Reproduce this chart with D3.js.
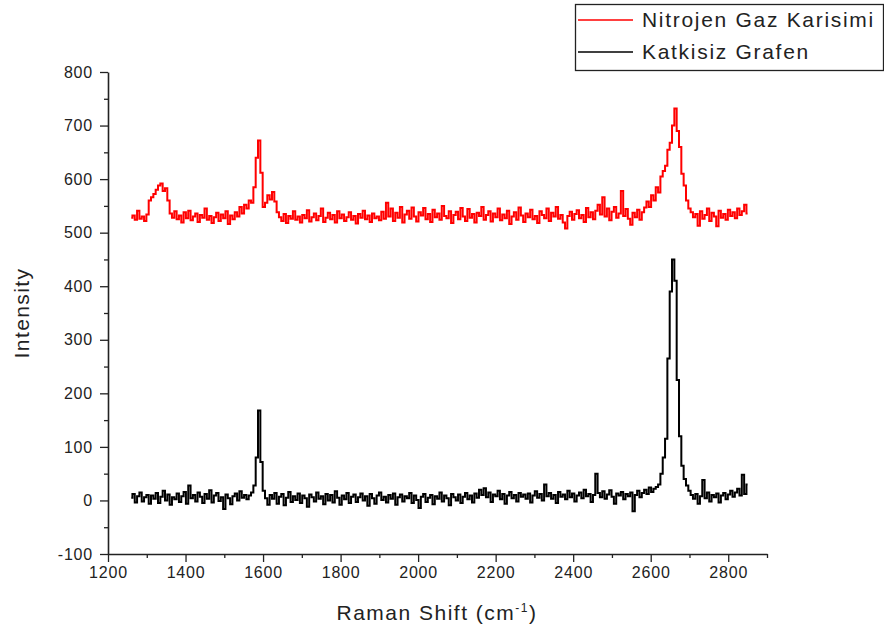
<!DOCTYPE html>
<html>
<head>
<meta charset="utf-8">
<script src="https://cdn.jsdelivr.net/npm/d3@7/dist/d3.min.js"></script>
<style>
  body { margin: 0; background: #fff; }
  text { font-family: "Liberation Sans", Arial, sans-serif; }
</style>
</head>
<body>
<svg id="chart" width="884" height="637"></svg>
<script>
// Raman spectra, sampled every 6 cm-1 starting at 1260 cm-1
const xStart = 1260;
const xStep = 6;

const nitrojenGaz = [
  528, 532, 524, 541, 526, 530, 522, 534, 560, 566,
  572, 580, 588, 592, 578, 583, 560, 536, 528, 540,
  525, 532, 519, 538, 527, 541, 523, 530, 536, 520,
  533, 528, 545, 524, 531, 518, 529, 537, 522, 534,
  527, 540, 516, 532, 525, 538, 530, 548, 536, 552,
  545, 560, 556, 585, 640, 672, 612, 548, 556, 570,
  562, 576, 558, 538, 529, 522, 535, 518, 531, 526,
  540, 524, 530, 519, 533, 527, 542, 521, 529, 536,
  523, 531, 545, 520, 528, 537, 525, 533, 519, 540,
  527, 534, 522, 529, 538, 524, 531, 517, 535, 528,
  541, 525, 532, 520, 536, 527, 530, 523, 539, 526,
  556, 530, 545, 522, 537, 528, 548, 519, 534, 541,
  526, 547, 530, 521, 538, 532, 546, 525, 535, 520,
  543, 529, 536, 524, 550, 531, 527, 540, 518, 533,
  539, 525, 546, 530, 522, 544, 528, 535, 519, 537,
  531, 548, 524, 533, 540, 521, 536, 529, 545, 523,
  534, 527, 541, 516, 530, 538, 524, 547, 532, 520,
  536, 529, 543, 525, 531, 518, 540, 533, 527, 545,
  522, 537, 530, 548, 526, 533, 519, 508, 531, 539,
  524, 535, 542, 527, 533, 520, 546, 529, 538, 525,
  541, 552, 534, 566, 530, 545, 523, 539, 548, 528,
  536, 578, 531, 544, 526, 515, 537, 529, 543, 524,
  538, 547, 558, 548, 570, 560, 585, 575, 605, 615,
  625, 655, 668, 700, 732, 690, 660, 610, 588, 560,
  545, 538, 529, 535, 513, 540, 526, 533, 545, 522,
  537, 530, 512, 541, 528, 535, 524, 543, 531, 538,
  527, 545, 533, 540, 552, 536
];

const katkisizGrafen = [
  5, 12, -4, 8, 15, -2, 6, 10, -6, 9,
  3, 14, -5, 7, 18, 0, 11, -8, 6, 2,
  13, -3, 8, 16, -6, 28, 4, 10, -2, 15,
  7, -5, 12, 3, 19, -4, 9, 14, -1, 6,
  -16, 11, 4, -7, 8, 13, 0, 17, 5, 10,
  2, 9, 15, 28, 80, 168, 72, 18, 4, -8,
  10, 3, 14, -6, 7, 12, -9, 5, 16, -3,
  8, 1, 13, -5, 9, 4, -12, 11, 6, -2,
  15, 3, 8, -7, 12, 0, 10, -4, 17, 5,
  -8, 9, 2, 14, -5, 7, 11, -3, 6, 13,
  0, 8, -10, 12, 4, -6, 9, 15, 1, 7,
  -4, 10, 3, 13, -8, 6, 11, -2, 8, 4,
  14, -5, 9, 1, -14, 7, 12, -3, 5, 10,
  -7, 8, 3, 15, -2, 9, 4, -9, 12, 6,
  0, 11, -5, 7, 14, 2, 9, -4, 13, 5,
  20, 10, 23, 6, 15, -3, 11, 8, 18, 2,
  12, -6, 9, 16, 4, 10, -2, 14, 7, 11,
  3, 13, -4, 9, 17, 5, 12, 0, 30, 8,
  14, 3, 10, -5, 16, 7, 11, 2, 18, 6,
  13, -2, 9, 15, 4, 20, 8, 12, -3, 10,
  50, 14, 6, 17, 3, 11, 19, 7, -6, 13,
  9, 16, 2, 12, 8, 15, -20, 10, 18, 6,
  14, 20, 12, 24, 16, 22, 25, 30, 50, 80,
  115, 265, 390, 450, 410, 225, 120, 65, 40, 28,
  18, 10, 3, 12, -6, 8, 38, 4, 15, -2,
  10, 6, 13, -4, 9, 14, 2, 11, 18, 7,
  15, 22, 9, 48, 12, 30
];

const seriesNames = ["Nitrojen Gaz Karisimi", "Katkisiz Grafen"];
const seriesColors = ["#ff0000", "#000000"];

const xMajorTicks = [1200, 1400, 1600, 1800, 2000, 2200, 2400, 2600, 2800];
const xMinorTicks = [1300, 1500, 1700, 1900, 2100, 2300, 2500, 2700, 2900];
const yMajorTicks = [-100, 0, 100, 200, 300, 400, 500, 600, 700, 800];
const yMinorTicks = [-50, 50, 150, 250, 350, 450, 550, 650, 750];

const svg = d3.select("#chart");

const x = d3.scaleLinear().domain([1200, 2900]).range([108, 767]);
const y = d3.scaleLinear().domain([-100, 800]).range([554, 72]);

const toPoints = vals => vals.map((v, i) => [xStart + i * xStep, v]);

const line = d3.line()
  .x(d => x(d[0]))
  .y(d => y(d[1]))
  .curve(d3.curveStep);

// Spectra (black drawn first, red on top)
[[katkisizGrafen, seriesColors[1]], [nitrojenGaz, seriesColors[0]]].forEach(([vals, color]) => {
  svg.append("path")
    .datum(toPoints(vals))
    .attr("fill", "none")
    .attr("stroke", color)
    .attr("stroke-width", 2)
    .attr("stroke-linejoin", "miter")
    .attr("d", line);
});

// Axes
const axisColor = "#222";
const fmt = d => String(d);
const xAxisG = svg.append("g").attr("transform", `translate(0,${y(-100)})`);
xAxisG.call(d3.axisBottom(x).tickValues(xMajorTicks).tickSize(8).tickSizeOuter(0).tickPadding(5)
  .tickFormat(fmt));
xAxisG.append("g").call(d3.axisBottom(x).tickValues(xMinorTicks).tickSize(4).tickSizeOuter(0).tickFormat(""))
  .select(".domain").remove();

const yAxisG = svg.append("g").attr("transform", `translate(${x(1200)},0)`);
yAxisG.call(d3.axisLeft(y).tickValues(yMajorTicks).tickSize(8).tickSizeOuter(0).tickPadding(7)
  .tickFormat(fmt));
yAxisG.append("g").call(d3.axisLeft(y).tickValues(yMinorTicks).tickSize(4).tickSizeOuter(0).tickFormat(""))
  .select(".domain").remove();

svg.selectAll(".domain").attr("stroke", axisColor).attr("stroke-width", 1.6);
svg.selectAll(".tick line").attr("stroke", axisColor).attr("stroke-width", 1.3);
svg.selectAll(".tick text")
  .attr("fill", "#222")
  .style("font-size", "16px")
  .style("letter-spacing", "0.8px")
  .style("font-family", "'Liberation Sans', Arial, sans-serif");

// Axis titles
svg.append("text")
  .attr("transform", "translate(29,313) rotate(-90)")
  .attr("text-anchor", "middle")
  .attr("fill", "#222")
  .style("font-size", "21px")
  .style("letter-spacing", "1.4px")
  .text("Intensity");

const xTitle = svg.append("text")
  .attr("x", 437)
  .attr("y", 620)
  .attr("text-anchor", "middle")
  .attr("fill", "#222")
  .style("font-size", "21px")
  .style("letter-spacing", "1.5px");
xTitle.append("tspan").text("Raman Shift (cm");
xTitle.append("tspan").attr("dy", -8).style("font-size", "12px").text("-1");
xTitle.append("tspan").attr("dy", 8).text(")");

// Legend
const legend = svg.append("g");
legend.append("rect")
  .attr("x", 575.5).attr("y", 4.5)
  .attr("width", 308).attr("height", 66)
  .attr("fill", "#fff").attr("stroke", "#222").attr("stroke-width", 1.3);

seriesNames.forEach((name, i) => {
  const cy = 20 + i * 32;
  legend.append("line")
    .attr("x1", 578).attr("x2", 633)
    .attr("y1", cy).attr("y2", cy)
    .attr("stroke", seriesColors[i]).attr("stroke-width", 1.5);
  legend.append("text")
    .attr("x", 642).attr("y", cy + 7)
    .attr("fill", "#222")
    .style("font-size", "21px")
    .style("letter-spacing", "1.7px")
    .text(name);
});
</script>
</body>
</html>
